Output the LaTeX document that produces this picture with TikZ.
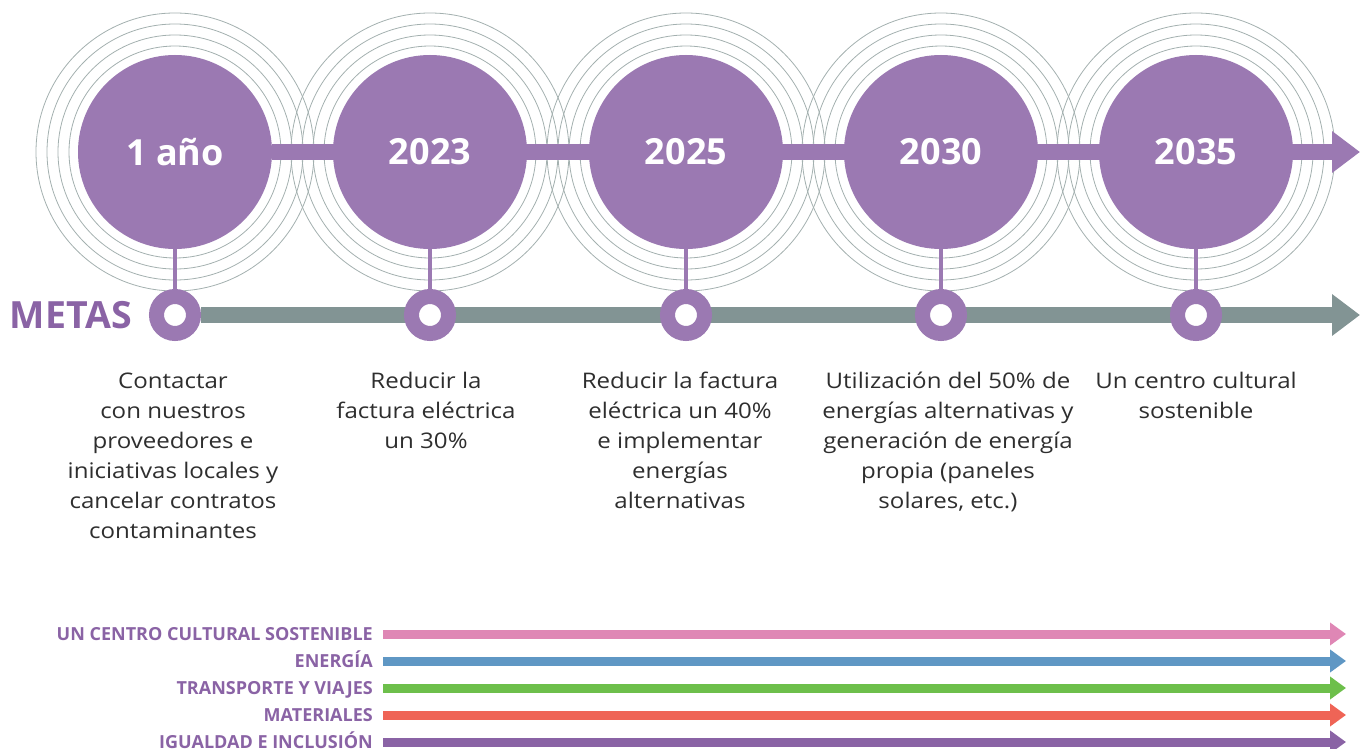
\documentclass[tikz,border=0pt]{standalone}
\usepackage{fontspec}
\setmainfont{Open Sans}
\newfontfamily\anchafont[FakeStretch=1.12]{Open Sans}
\usepackage{tikz}
\usetikzlibrary{calc, positioning, arrows.meta, backgrounds}
\definecolor{lila}{HTML}{9B79B2}
\definecolor{lilaosc}{HTML}{8A63A5}
\definecolor{gris}{HTML}{829494}
\definecolor{anillo}{HTML}{A3B0AF}
\definecolor{texto}{HTML}{2E2E2E}
\definecolor{rosa}{HTML}{DF87B5}
\definecolor{azul}{HTML}{5F97C4}
\definecolor{verde}{HTML}{6DBF4B}
\definecolor{rojo}{HTML}{EF6456}
\tikzstyle{anio}=[circle, fill=lila, minimum size=194pt, inner sep=0pt, text=white, font=\bfseries\fontsize{36}{36}\selectfont]
\tikzstyle{hito}=[circle, draw=lila, fill=white, line width=15pt, minimum size=37pt, inner sep=0pt]
\tikzstyle{meta}=[align=center, anchor=base, inner sep=0pt, text=texto, font=\anchafont\fontsize{21.5}{30}\selectfont]
\tikzstyle{eje}=[line width=16pt, -{Triangle[length=28pt, width=40pt]}]
\tikzstyle{linea}=[line width=9pt, shorten <=10pt, -{Triangle[length=16pt, width=22pt]}]
\tikzstyle{etiq}=[anchor=base east, inner sep=0pt, text=lilaosc, font=\bfseries\fontsize{18}{18}\selectfont]

\begin{document}
\begin{tikzpicture}[x=1pt, y=-1pt]
\useasboundingbox (0,0) rectangle (1368,749);
\foreach \j/\a/\x in {0/1 año/175, 1/2023/430, 2/2025/686, 3/2030/941, 4/2035/1196}
{
\node[anio] (c\j) at (\x,152) {\a};
\node[hito] (m\j) at (\x,315) {};
\draw[lila, line width=4pt] (c\j.south) -- (m\j.north);
}
\coordinate (finA) at (1360,152);
\coordinate (finB) at (1360,315);
\node[left=17pt of m0, inner sep=0pt, text=lilaosc, font=\bfseries\fontsize{37.5}{37.5}\selectfont] (metas) {METAS};
%
\begin{scope}[on background layer]
\foreach \j in {0,...,4}
{
\foreach \r in {106,117,128,139}
\draw[anillo, line width=0.8pt] (c\j) circle (\r);
}
\foreach \j in {0,...,4}
\fill[white] (c\j) circle (101);
\draw[eje, lila] (c0) -- (finA);
\draw[eje, gris] (m0) -- (finB);
\end{scope}
%
% base = last line
\node[meta] (t0) at (173,538) {Contactar\\con nuestros\\proveedores e\\iniciativas locales y\\cancelar contratos\\contaminantes};
\node[meta] (t1) at (426,448) {Reducir la\\factura eléctrica\\un 30\%};
\node[meta] (t2) at (680,508) {Reducir la factura\\eléctrica un 40\%\\e implementar\\energías\\alternativas};
\node[meta] (t3) at (948,508) {Utilización del 50\% de\\energías alternativas y\\generación de energía\\propia (paneles\\solares, etc.)};
\node[meta] (t4) at (1196,418) {Un centro cultural\\sostenible};
%
\foreach \i/\t/\c in {0/UN CENTRO CULTURAL SOSTENIBLE/rosa, 1/ENERGÍA/azul, 2/TRANSPORTE Y VIAJES/verde, 3/MATERIALES/rojo, 4/IGUALDAD E INCLUSIÓN/lilaosc}
{
\node[etiq] (l\i) at (373,640.5+27*\i) {\t};
\coordinate (f\i) at (1346,634+27*\i);
\draw[linea, \c] (l\i.east |- f\i) -- (f\i);
}
\end{tikzpicture}
\end{document}
